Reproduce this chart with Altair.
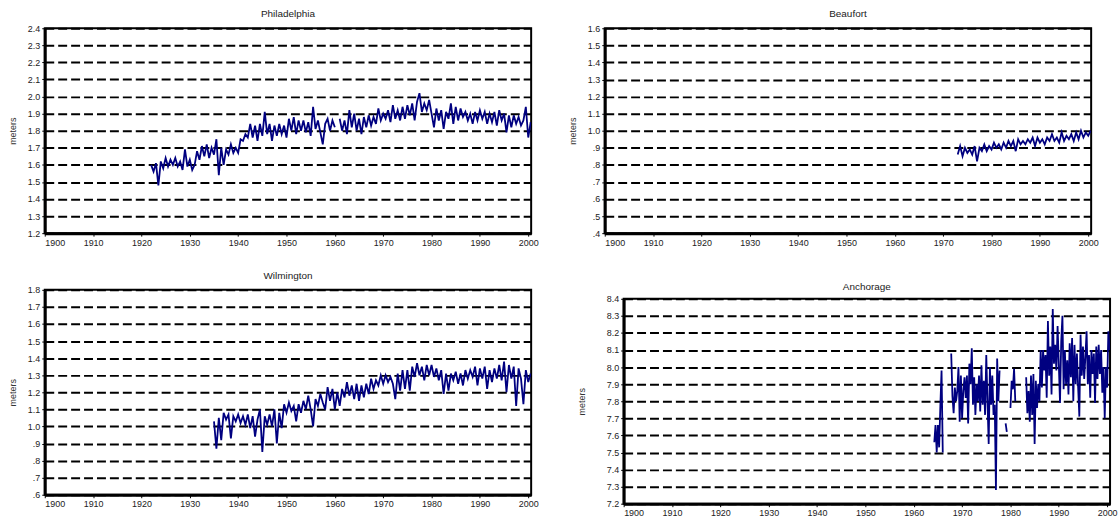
import altair as alt
import pandas as pd

FONT = "Liberation Sans"
LINE_COLOR = "#000080"

X_TICKS = [1900, 1910, 1920, 1930, 1940, 1950, 1960, 1970, 1980, 1990, 2000]
X_DOMAIN = [1900, 2000.6]

PHIL_TICKS = [1.2, 1.3, 1.4, 1.5, 1.6, 1.7, 1.8, 1.9, 2.0, 2.1, 2.2, 2.3, 2.4]
BEAU_TICKS = [0.4, 0.5, 0.6, 0.7, 0.8, 0.9, 1.0, 1.1, 1.2, 1.3, 1.4, 1.5, 1.6]
WILM_TICKS = [0.6, 0.7, 0.8, 0.9, 1.0, 1.1, 1.2, 1.3, 1.4, 1.5, 1.6, 1.7, 1.8]
ANCH_TICKS = [7.2, 7.3, 7.4, 7.5, 7.6, 7.7, 7.8, 7.9, 8.0, 8.1, 8.2, 8.3, 8.4]

# Philadelphia: half-yearly readings from 1922.0
PHIL_START, PHIL_STEP = 1922.0, 0.5
PHIL = [
    1.60, 1.56, 1.61, 1.48, 1.62, 1.58, 1.64, 1.59, 1.63, 1.60,
    1.64, 1.59, 1.62, 1.57, 1.69, 1.59, 1.63, 1.57, 1.60, 1.68,
    1.63, 1.71, 1.65, 1.72, 1.64, 1.70, 1.66, 1.75, 1.54, 1.70,
    1.60, 1.69, 1.66, 1.72, 1.67, 1.70, 1.67, 1.75, 1.74, 1.78,
    1.76, 1.84, 1.76, 1.83, 1.74, 1.84, 1.77, 1.91, 1.78, 1.84,
    1.74, 1.83, 1.77, 1.84, 1.78, 1.83, 1.76, 1.87, 1.80, 1.88,
    1.78, 1.86, 1.80, 1.86, 1.79, 1.85, 1.77, 1.94, 1.81, 1.86,
    1.79, 1.72, 1.84, 1.87, 1.80, 1.86, 1.82, None, 1.87, 1.80,
    1.86, 1.78, 1.92, 1.82, 1.90, 1.80, 1.87, 1.78, 1.88, 1.82,
    1.89, 1.83, 1.88, 1.84, 1.93, 1.86, 1.90, 1.87, 1.92, 1.85,
    1.95, 1.87, 1.92, 1.86, 1.94, 1.87, 1.95, 1.89, 1.96, 1.86,
    1.97, 2.02, 1.91, 1.96, 1.92, 1.98, 1.90, 1.82, 1.93, 1.86,
    1.92, 1.81, 1.91, 1.87, 1.96, 1.84, 1.94, 1.86, 1.93, 1.88,
    1.91, 1.86, 1.90, 1.84, 1.91, 1.86, 1.92, 1.87, 1.91, 1.84,
    1.90, 1.85, 1.91, 1.83, 1.92, 1.86, 1.90, 1.79, 1.89, 1.82,
    1.89, 1.84, 1.88, 1.83, 1.86, 1.94, 1.76, 1.85,
]

# Beaufort: half-yearly readings from 1973.0
BEAU_START, BEAU_STEP = 1973.0, 0.5
BEAU = [
    0.86, 0.91, 0.85, 0.90, 0.87, 0.89, 0.86, 0.91, 0.82, 0.90,
    0.88, 0.92, 0.88, 0.91, 0.89, 0.93, 0.90, 0.92, 0.89, 0.93,
    0.90, 0.94, 0.91, 0.94, 0.88, 0.95, 0.92, 0.94, 0.92, 0.95,
    0.93, 0.96, 0.91, 0.96, 0.93, 0.95, 0.92, 0.96, 0.94, 0.98,
    0.94, 0.96, 0.93, 0.99, 0.94, 0.97, 0.95, 0.98, 0.94, 0.99,
    0.95, 1.00, 0.96, 0.99, 0.97, 1.00,
]

# Wilmington: half-yearly readings from 1935.0
WILM_START, WILM_STEP = 1935.0, 0.5
WILM = [
    1.03, 0.87, 1.05, 0.92, 1.08, 1.04, 1.07, 0.93, 1.06, 1.03,
    1.07, 1.02, 1.06, 1.01, 1.07, 0.99, 1.06, 0.94, 1.04, 1.10,
    0.85, 1.06, 1.01, 1.07, 1.00, 1.10, 0.90, 1.08, 0.99, 1.13,
    1.08, 1.14, 1.09, 1.12, 1.03, 1.13, 1.08, 1.15, 1.10, 1.18,
    1.10, 1.00, 1.16, 1.12, 1.19, 1.14, 1.10, 1.23, 1.15, 1.22,
    1.10, 1.20, 1.12, 1.22, 1.17, 1.26, 1.18, 1.24, 1.16, 1.25,
    1.15, 1.24, 1.17, 1.25, 1.19, 1.28, 1.22, 1.27, 1.24, 1.30,
    1.25, 1.30, 1.26, 1.29, 1.25, 1.16, 1.31, 1.21, 1.33, 1.22,
    1.33, 1.21, 1.35, 1.29, 1.37, 1.30, 1.35, 1.27, 1.36, 1.30,
    1.36, 1.29, 1.34, 1.27, 1.33, 1.19, 1.31, 1.21, 1.31, 1.27,
    1.32, 1.25, 1.31, 1.24, 1.33, 1.28, 1.33, 1.29, 1.35, 1.24,
    1.34, 1.28, 1.35, 1.22, 1.33, 1.26, 1.34, 1.28, 1.36, 1.27,
    1.38, 1.20, 1.36, 1.28, 1.35, 1.12, 1.34, 1.28, 1.13, 1.33,
    1.26, 1.31,
]

# Anchorage: quarterly readings from 1964.25 (None = missing)
ANCH_START, ANCH_STEP = 1964.25, 0.25
ANCH = [
    7.56, 7.66, 7.50, 7.66, 7.53, 7.77, 7.98, 7.50,
    None, None, None, None, None, None,
    8.08, 7.83, 7.73, 7.88, 7.80, 7.86, 8.00, 7.68, 7.95, 7.70,
    7.86, 7.94, 7.82, 7.95, 7.67, 8.02, 7.90, 8.11, 7.78, 7.94,
    7.72, 7.90, 7.80, 7.95, 7.74, 8.01, 7.78, 7.92, 7.72, 8.07,
    7.80, 7.55, 8.00, 7.78, 7.95, 7.72, 7.78, 7.28, 8.05, 7.80,
    7.98,
    None, None, None, None,
    7.67, 7.62,
    None, None,
    7.76, 7.92, 7.87, 7.99, 7.80,
    None, None, None, None, None, None, None, None,
    7.94, 7.73, 7.86, 7.68, 7.95, 7.72, 7.96, 7.55, 7.92, 7.76,
    7.90, 7.80, 8.10, 7.88, 8.10, 7.98, 8.07, 7.82, 8.27, 7.95,
    8.12, 7.84, 8.34, 8.02, 8.13, 7.98, 8.24, 8.02, 7.79, 8.15,
    8.30, 7.87, 8.10, 7.90, 8.04, 7.84, 8.14, 7.94, 8.17, 7.80,
    8.13, 7.90, 8.08, 7.88, 7.71, 8.19, 7.95, 8.12, 7.93, 8.06,
    8.21, 7.90, 8.07, 7.82, 8.10, 7.96, 8.08, 7.79, 8.12, 7.93,
    8.13, 7.96, 8.10, 7.85, 8.00, 7.70, 8.00, 7.88, 8.21, 8.10,
]


def frame(start, step, values):
    rows = []
    seg = 0
    gap = False
    for i, v in enumerate(values):
        if v is None:
            gap = True
            continue
        if gap:
            seg += 1
            gap = False
        rows.append({"year": start + i * step, "level": v, "seg": seg})
    return pd.DataFrame(rows)


LABEL_EXPR = ("datum.value < 0.95 ? '.' + format(datum.value * 10, '.0f') "
              ": format(datum.value, '.1f')")


def panel(title, df, ticks, title_offset, y_title_pad, width=489, height=206):
    return (
        alt.Chart(df, title=alt.TitleParams(title, offset=title_offset))
        .mark_line(color=LINE_COLOR, strokeWidth=1.8, clip=True)
        .encode(
            x=alt.X("year:Q",
                    scale=alt.Scale(domain=X_DOMAIN, nice=False, zero=False),
                    axis=alt.Axis(values=X_TICKS, format="d", title=None)),
            y=alt.Y("level:Q",
                    scale=alt.Scale(domain=[ticks[0], ticks[-1]], nice=False, zero=False),
                    axis=alt.Axis(values=ticks, labelExpr=LABEL_EXPR,
                                  title="meters", titlePadding=y_title_pad)),
            detail="seg:N",
        )
        .properties(width=width, height=height)
    )


phil = panel("Philadelphia", frame(PHIL_START, PHIL_STEP, PHIL), PHIL_TICKS, 5, 10)
beau = panel("Beaufort", frame(BEAU_START, BEAU_STEP, BEAU), BEAU_TICKS, 5, 10)
wilm = panel("Wilmington", frame(WILM_START, WILM_STEP, WILM), WILM_TICKS, 5, 10)
anch = panel("Anchorage", frame(ANCH_START, ANCH_STEP, ANCH), ANCH_TICKS, 3, 20)

spacer = (
    alt.Chart(pd.DataFrame({"v": [0]}))
    .mark_point(opacity=0)
    .encode(x=alt.X("v:Q", axis=None), y=alt.Y("v:Q", axis=None))
    .properties(width=1, height=1, view=alt.ViewBackground(stroke=None))
)

col1 = alt.vconcat(phil, wilm, spacing=57, bounds="flush")
anch_row = alt.hconcat(spacer, anch, spacing=18, bounds="flush")
col2 = alt.vconcat(beau, anch_row, spacing=66, bounds="flush")

chart = (
    alt.hconcat(col1, col2, spacing=27)
    .properties(padding={"left": 7, "top": 7, "right": 0, "bottom": 0},
                background="white")
    .configure_view(stroke="black", strokeWidth=2)
    .configure_axis(
        labelFont=FONT, labelFontSize=9, labelColor="#222",
        titleFont=FONT, titleFontSize=9, titleFontWeight="normal", titleColor="#333",
        domainColor="black", domainWidth=3, tickColor="black", tickSize=3, tickWidth=1,
        labelPadding=2,
    )
    .configure_axisY(grid=True, gridColor="black", gridDash=[9, 4], gridWidth=2)
    .configure_axisX(grid=False)
    .configure_title(font=FONT, fontSize=10, fontWeight="normal", color="#222", anchor="middle")
)

chart.save("out.html", embed_options={"renderer": "svg", "actions": False})
